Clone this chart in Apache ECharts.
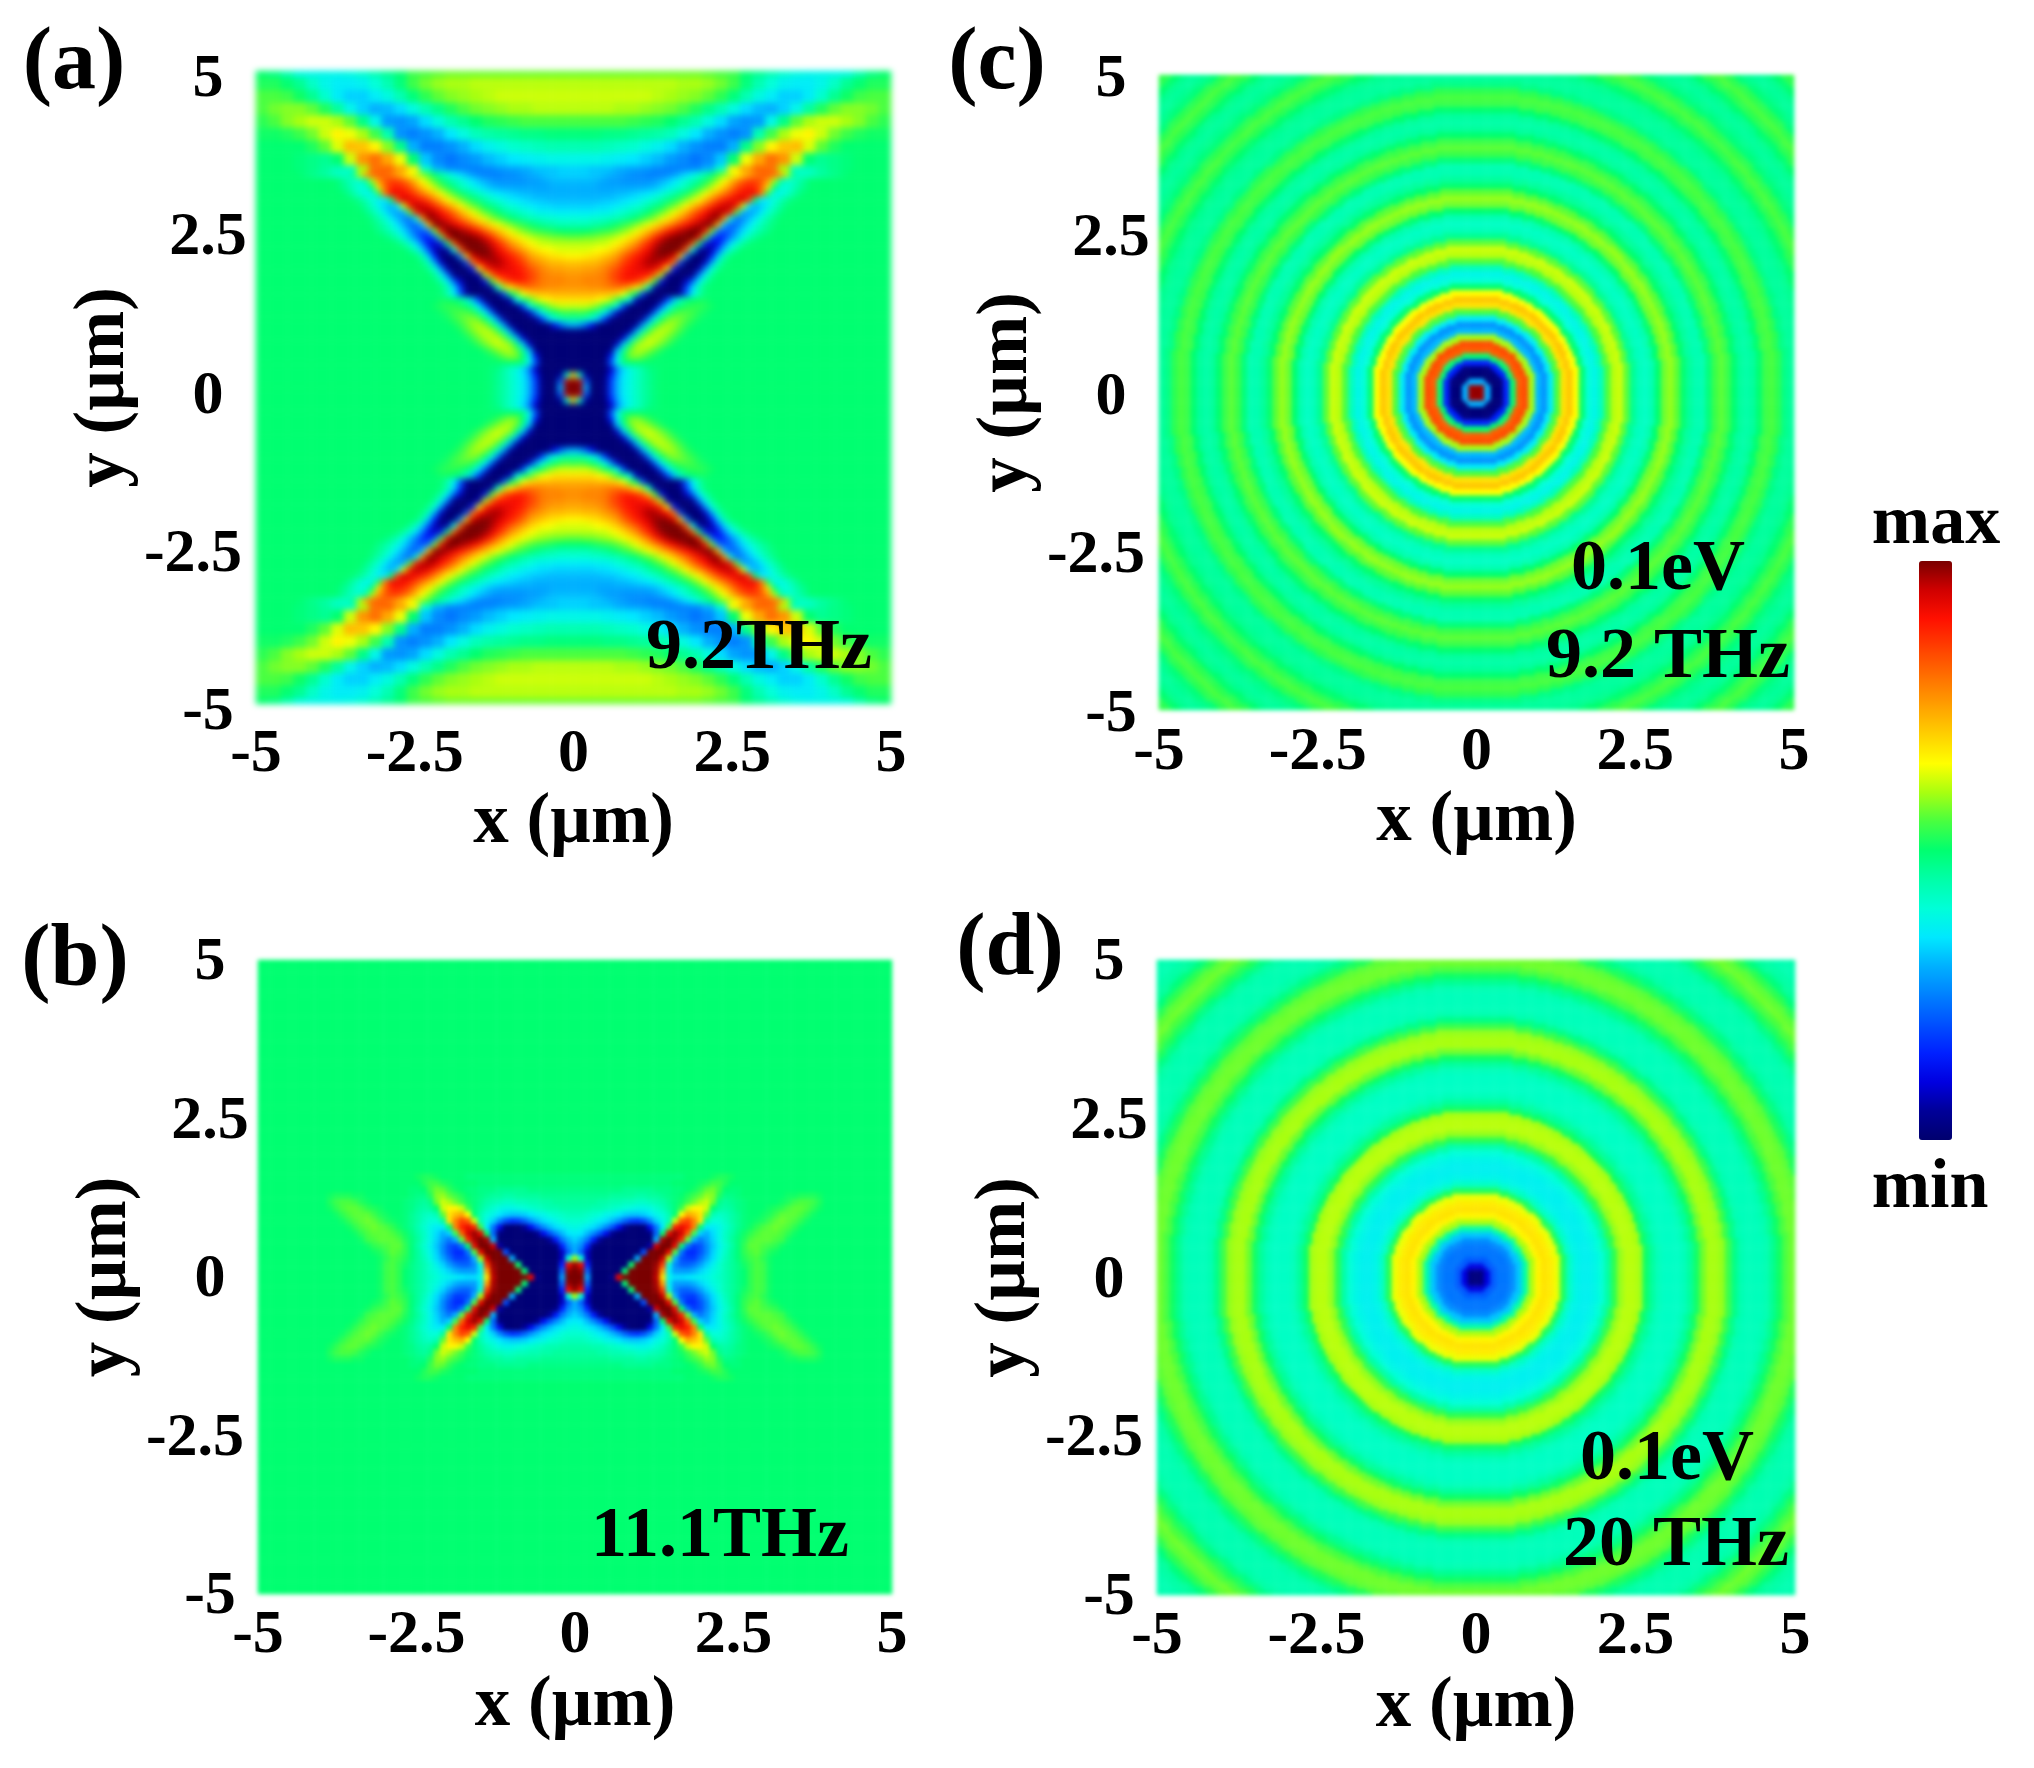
<!DOCTYPE html>
<html><head><meta charset="utf-8">
<style>html,body{margin:0;padding:0;background:#fff}#c{width:2034px;height:1768px}</style>
<script src="https://cdn.jsdelivr.net/npm/echarts@6/dist/echarts.min.js"></script>
</head><body><div id="c"></div>
<script>
// Field values, 0 = min ... 100 = max.
// Panel (a), outer part: one quadrant, rows y = 5 ... 3.4, columns x = 0 ... 5, step 0.2 um.
const rowsAOuter = [
[57,57,57,57,57,57,57,57,57,57,57,56,55,54,50,47,44,41,39,38,38,38,39,44,48,50],
[61,61,61,61,61,61,61,61,61,60,60,59,57,54,49,44,40,37,36,36,38,42,47,50,52,52],
[62,62,62,62,62,62,62,61,60,59,58,56,53,49,44,39,36,33,33,36,41,47,51,54,55,55],
[61,61,61,61,60,60,59,58,57,55,52,48,44,39,34,31,30,33,38,46,52,56,58,58,57,55],
[55,55,55,55,55,54,53,52,50,47,44,39,34,29,27,28,38,48,56,60,62,62,60,58,55,53],
[49,49,49,48,48,47,46,45,43,39,35,30,27,25,27,44,54,60,64,66,62,57,54,52,51,51],
[44,44,44,43,42,41,39,37,34,30,27,25,25,30,48,58,66,71,72,63,56,52,50,50,50,50],
[38,38,38,37,36,35,33,31,28,26,24,26,32,50,64,74,80,76,62,50,47,48,49,50,50,50],
[33,33,32,32,30,29,28,26,25,25,26,30,41,66,75,81,80,60,42,43,46,48,49,50,50,50]
];
// Panel (a), inner part: one quadrant, rows y = 0 ... 3.4, columns x = 0, 0.1 ...; the background value past the end of a row.
const backgroundA = 50;
const rowsAInner = [
[100,100,30,1,1,3,18,30,36,39,42,45,47,49],
[100,96,22,1,1,3,18,30,36,39,42,45,47,49],
[70,40,5,1,1,2,14,28,35,39,42,45,47,49],
[1,1,1,1,1,1,8,25,34,39,42,45,48,49],
[1,1,1,1,1,2,20,38,48,50],
[1,1,1,1,1,1,14,36,50,57,58,56,53,51],
[1,1,1,1,1,1,4,30,46,56,60,60,58,55,52],
[1,1,1,1,1,1,1,8,32,48,58,61,62,60,57,54,51],
[1,1,1,1,1,1,1,1,8,30,46,56,61,61,60,57,54,51],
[2,2,1,1,1,1,1,1,1,6,28,44,54,60,61,60,57,54,51],
[30,28,22,12,3,1,1,1,1,1,5,26,42,52,58,60,59,56,53,51],
[46,46,44,40,32,18,4,1,1,1,1,5,24,40,50,56,58,57,55,53,51],
[53,54,53,50,46,38,26,8,1,1,1,1,4,22,38,47,53,55,55,54,52,51],
[62,62,62,60,57,52,47,38,18,2,1,1,1,4,20,35,45,50,52,53,53,52,51],
[68,68,68,68,66,64,60,54,48,36,8,1,1,1,3,18,32,42,48,50,51,51],
[73,73,73,73,72,72,71,69,64,56,50,20,2,1,1,1,1,6,22,36,44,49],
[76,76,76,77,77,78,79,80,78,74,68,60,42,6,1,1,1,3,18,34,44,49],
[77,77,78,78,78,79,82,85,88,88,86,82,72,54,12,1,1,1,8,22,36,45,49],
[76,76,77,77,78,79,83,86,89,91,91,90,88,80,60,8,1,1,1,4,24,38,46,50],
[74,74,75,75,76,78,81,84,88,90,92,93,94,92,86,64,14,1,1,1,6,26,40,47,50],
[71,71,72,72,73,75,77,80,85,88,91,94,97,97,95,90,76,20,1,1,1,8,28,42,48,50],
[66,66,67,68,69,71,73,76,81,85,89,92,95,98,99,98,94,72,26,2,1,2,14,32,44,49,50],
[63,63,63,64,65,66,68,71,75,79,83,88,92,97,100,100,100,98,80,38,7,3,7,20,33,42,47,50],
[61,61,61,61,62,62,64,66,69,73,77,83,88,94,98,100,100,100,98,82,48,14,8,12,24,34,41,46,49,50],
[56,56,57,57,58,59,60,62,64,67,70,75,80,87,93,97,99,100,100,100,90,55,22,14,17,25,32,39,44,47,49,50],
[50,50,50,51,52,53,54,56,58,61,64,68,72,77,82,88,92,96,98,100,100,90,58,26,20,22,28,34,39,43,46,48,50],
[44,44,44,45,46,47,49,51,53,55,58,61,64,68,72,76,81,86,90,94,97,99,98,72,32,22,24,30,35,40,44,47,49,50],
[40,40,40,41,41,42,43,44,46,48,50,53,56,59,63,67,71,76,81,86,91,95,98,98,76,40,24,26,31,36,41,45,48,50],
[36,36,36,36,37,37,38,40,41,43,45,47,50,53,56,60,64,69,74,80,85,90,95,97,96,88,56,30,28,31,36,41,45,48,50],
[33,33,33,33,34,34,35,36,37,39,40,42,45,48,50,54,57,61,66,71,76,82,87,92,95,96,88,62,36,30,33,38,42,46,49,50],
[31,31,31,31,31,32,32,33,34,35,36,38,40,42,45,48,51,54,58,62,66,72,78,84,88,91,93,94,84,50,35,36,40,44,47,49,50],
[30,30,30,30,30,30,30,31,31,32,33,34,35,37,39,42,45,48,51,55,59,64,69,74,79,84,88,91,92,90,78,52,38,38,41,45,48,50],
[30,30,30,30,29,29,29,29,29,29,29,29,30,31,33,36,38,41,44,48,52,56,61,66,71,77,83,87,89,87,80,68,50,40,40,43,46,48,50],
[31,31,31,31,30,29,28,28,27,27,27,27,27,28,30,32,35,38,41,44,47,51,55,60,65,71,77,82,85,85,82,75,60,46,41,42,45,48,50],
[33,33,33,32,32,31,30,29,28,27,26,26,25,25,25,26,28,31,34,37,41,45,49,54,58,62,66,71,75,79,81,82,80,74,60,46,42,42,43,45,46,47,48,49,50]
];
// Panel (b): one quadrant, rows y = 0 ... 1.6, columns x = 0 ... 4, step 0.1 um; the background value everywhere else.
const backgroundB = 50;
const rowsB = [
[100,100,28,1,1,1,3,92,100,100,100,100,100,96,68,38,34,34,35,36,37,38,40,42,44,46,48,50,53,55,54,51],
[100,98,22,1,1,1,1,1,50,100,100,100,100,97,75,36,28,28,28,30,33,36,39,41,44,46,48,50,53,55,54,51],
[98,92,15,1,1,1,1,1,1,50,100,100,100,98,85,40,26,22,22,24,28,33,37,41,44,46,48,51,53,55,54,51],
[60,40,8,1,1,1,1,1,1,1,30,100,100,100,95,60,30,20,18,18,23,29,34,39,43,46,49,52,54,55,53,51],
[30,22,8,1,1,1,1,1,1,1,1,20,100,100,100,92,55,24,16,16,20,26,33,38,42,46,49,53,55,56,54,52,51],
[30,26,15,3,1,1,1,1,1,1,1,1,6,95,100,100,92,50,24,18,20,26,32,37,41,45,49,53,56,56,55,54,53,51],
[33,30,24,14,5,1,1,1,1,1,1,1,1,30,97,100,97,88,56,30,24,28,33,38,42,46,49,52,55,56,56,56,55,54,51],
[36,35,31,26,20,12,4,1,1,1,1,1,3,22,50,92,98,94,82,54,33,30,34,38,42,45,48,51,53,55,56,56,56,55,53,51],
[39,38,36,34,31,26,20,12,5,1,1,2,12,24,35,54,88,92,88,78,50,36,36,38,41,44,47,49,51,53,55,56,57,56,55,53,51],
[41,41,40,38,36,34,31,27,22,18,17,20,26,33,38,44,62,82,85,78,68,46,40,40,42,45,47,49,50,51,52,54,56,57,56,55,53,51],
[43,43,42,41,40,38,37,35,33,32,32,33,35,38,40,44,50,65,74,72,68,56,44,42,43,45,47,49,50,50,51,52,54,56,56,56,55,53,51],
[45,45,45,44,44,43,42,41,40,39,38,38,39,41,43,46,49,54,62,66,66,62,50,46,45,46,48,49,50,50,50,51,52,53,55,56,56,55,53,51],
[46,46,46,46,45,45,44,44,43,43,42,42,43,44,45,47,49,51,54,57,60,62,57,48,46,47,48,49,50,50,50,50,50,51,52,54,55,55,54,52],
[47,47,47,47,47,47,46,46,46,46,45,45,46,46,47,48,49,50,52,54,56,59,58,52,48,48,49,50,50,50,50,50,50,50,51,51,52,52,52,51],
[48,48,48,48,48,48,48,48,47,47,47,47,47,48,48,48,49,49,50,51,53,56,57,54,50,49,49],
[49,49,49,49,49,49,49,49,49,49,49,49,49,49,49,49,50,50,50,50,51,52,54,54,52],
[49,49,49,49,49,49,49,49,49,49,49,49,49,49,49,49,49,49,50,50,50,50,51,52,52,51]
];
// Panels (c) and (d): radial profile, r = 0, 0.1, 0.2 ... 7.1 um.
const profileC = [100,98,30,1,2,15,50,82,84,60,31,27,36,55,68,71,65,50,40,38,43,55,61,62,56,47,43,42,44,50,57,59,56,50,46,44,44,49,54,56,54,50,46,45,46,50,54,55,53,48,46,46,47,50,53,55,53,49,47,46,47,50,53,55,53,49,47,46,47,50,53,54];
const profileD = [2,2,10,21,24,24,26,32,45,60,66,68,67,64,52,42,38,37,37,38,40,45,53,59,61,61,60,51,46,43,42,42,42,43,46,51,57,60,60,59,54,48,44,43,43,43,44,47,51,55,57,57,56,52,48,45,44,44,44,45,48,52,55,57,56,53,49,46,45,44,44,45];
const tickValues = { min: -5, max: 5, interval: 2.5 };
const scaleColors = ['#00006e','#000098','#0000e0','#0020ff','#0050ff','#0080ff','#00b0ff','#00e8ff','#00ffd8','#00ffa8','#00ff70','#48ff40','#a8ff10','#ffff00','#ffd000','#ffa000','#ff7000','#ff4000','#ff1000','#d00000','#7a0000'];

const SERIF = '"Liberation Serif","Times New Roman",serif';
// half = 50 gives cells of 0.1 um. Panels are mirrored from their single stored quadrant.
function cellsA(half) {
  const out = [];
  for (let j = -half; j <= half; j++) for (let i = -half; i <= half; i++) {
    const a = Math.abs(i), b = Math.abs(j);
    let v;
    if (b < rowsAInner.length) {
      const row = rowsAInner[b];
      v = row[a] !== undefined ? row[a] : backgroundA;
    } else {
      v = rowsAOuter[Math.round((half - b) / 2)][Math.round(a / 2)];
    }
    out.push([i + half, j + half, v]);
  }
  return out;
}
function cellsB(half) {
  const out = [];
  for (let j = -half; j <= half; j++) for (let i = -half; i <= half; i++) {
    const row = rowsB[Math.abs(j)];
    const v = (row && row[Math.abs(i)] !== undefined) ? row[Math.abs(i)] : backgroundB;
    out.push([i + half, j + half, v]);
  }
  return out;
}
// half = 100 gives cells of 0.05 um; the profile is looked up at the nearest 0.1 um.
function radialCells(profile, half) {
  const out = [];
  for (let j = -half; j <= half; j++) for (let i = -half; i <= half; i++) {
    out.push([i + half, j + half, profile[Math.round(Math.hypot(i, j) / 2)]]);
  }
  return out;
}
const panels = [
  {g:{left:256,top:71,width:635,height:633}, data:cellsA(50), half:50, z:-2, xGap:84, xMargin:20, yPad:18},
  {g:{left:1159,top:75,width:635,height:635}, data:radialCells(profileC,100), half:100, z:-1, xGap:76, xMargin:12, yPad:10},
  {g:{left:258,top:960,width:634,height:634}, data:cellsB(50), half:50, z:-1, xGap:77, xMargin:11, yPad:6},
  {g:{left:1157,top:960,width:638,height:635}, data:radialCells(profileD,100), half:100, z:-1, xGap:77, xMargin:11, yPad:6}
];
const labelStyle = {fontFamily:SERIF,fontWeight:'bold',fontSize:62,color:'#000'};
const grid=[],xAxis=[],yAxis=[],series=[];
panels.forEach((p,k)=>{
  grid.push(p.g);
  const cats = Array.from({length:2*p.half+1},(_,i)=>String(i-p.half));
  xAxis.push({type:'category',gridIndex:k,data:cats,show:false,position:'top'});
  yAxis.push({type:'category',gridIndex:k,data:cats,show:false,position:'right'});
  const base = {type:'value',gridIndex:k,min:tickValues.min,max:tickValues.max,interval:tickValues.interval,
    axisLine:{show:false},axisTick:{show:false},splitLine:{show:false},
    nameLocation:'middle',nameTextStyle:{fontFamily:SERIF,fontWeight:'bold',fontSize:71,color:'#000'}};
  xAxis.push(Object.assign({},base,{position:'bottom',name:'x (µm)',nameGap:p.xGap,axisLabel:Object.assign({},labelStyle,{margin:p.xMargin,showMinLabel:true,showMaxLabel:true,hideOverlap:false})}));
  yAxis.push(Object.assign({},base,{position:'left',name:'y (µm)',nameGap:97,axisLabel:Object.assign({},labelStyle,{margin:48,align:'center',showMinLabel:true,showMaxLabel:true,hideOverlap:false,
    formatter:v=>v===-2.5?'{w|-2.5}':'{n|'+v+'}',
    rich:{n:Object.assign({},labelStyle,{padding:[p.yPad,0,0,0]}),w:Object.assign({},labelStyle,{padding:[p.yPad,30,0,0]})}})}));
  series.push({type:'heatmap',xAxisIndex:2*k,yAxisIndex:2*k,data:p.data,zlevel:p.z,progressive:0,silent:true,animation:false,emphasis:{disabled:true}});
});
const texts = [
  ['(a)',74,65,88],['(c)',997,65,88],['(b)',75,962,88],['(d)',1010,951,88],
  ['9.2THz',759,649,72],['11.1THz',720,1537,72],['0.1eV',1658,570,72],['9.2 THz',1668,658,72],['0.1eV',1667,1460,72],['20 THz',1676,1546,72],
  ['max',1936,525,70],['min',1930,1189,70]
];
const chart = echarts.init(document.getElementById('c'),null,{renderer:'canvas'});
chart.setOption({
  animation:false,backgroundColor:'transparent',grid,xAxis,yAxis,series,
  visualMap:{type:'continuous',min:0,max:100,left:1904,top:546,itemWidth:33,itemHeight:579,
    calculable:false,hoverLink:false,realtime:false,inRange:{color:scaleColors}},
  graphic:texts.map(t=>({type:'text',x:t[1],y:t[2],silent:true,zlevel:1,
    style:{text:t[0],align:'center',verticalAlign:'middle',font:'bold '+t[3]+'px '+SERIF,fill:'#000'}}))
});
const layer = z => document.querySelector('canvas[data-zr-dom-id="zr_'+z+'"]');
[[-2,'blur(3px)'],[-1,'blur(2px)']].forEach(([z,f])=>{const c=layer(z); if(c) c.style.filter=f;});
</script></body></html>
